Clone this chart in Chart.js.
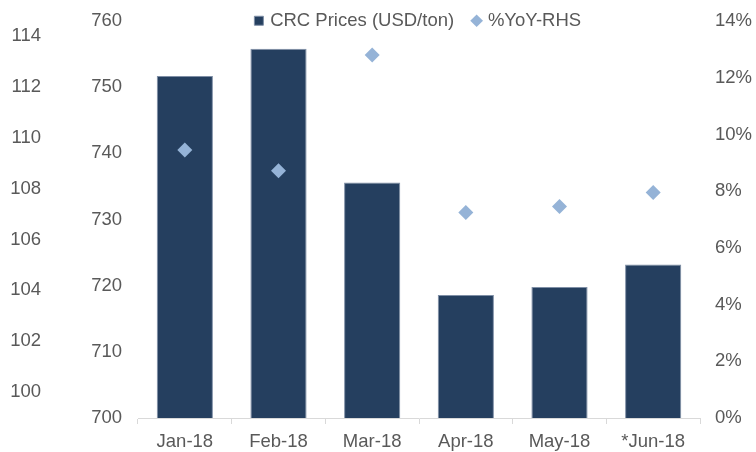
<!DOCTYPE html>
<html>
<head>
<meta charset="utf-8">
<script src="https://cdn.jsdelivr.net/npm/chart.js@4.4.1/dist/chart.umd.min.js"></script>
<style>
  html, body { margin: 0; padding: 0; background: #fff; }
</style>
</head>
<body>
<canvas id="myChart" width="756" height="452"></canvas>
<script>
const months = ['Jan-18', 'Feb-18', 'Mar-18', 'Apr-18', 'May-18', '*Jun-18'];
const crcPrices = [751.7, 755.8, 735.6, 718.6, 719.8, 723.2];
const yoyPct = [9.45, 8.72, 12.8, 7.25, 7.46, 7.95];
const outerTicks = [100, 102, 104, 106, 108, 110, 112, 114];

const txt = '#595959';
const fnt = { family: 'Liberation Sans, Arial, sans-serif', size: 18.5 };

// legend sits beside the top ticks, so it must not push the plot down
const legendSquash = {
  id: 'legendSquash',
  afterInit(chart) {
    const lg = chart.legend;
    const fit0 = lg.fit;
    const draw0 = lg.draw;
    lg.fit = function () { fit0.call(this); this.height = 30; };
    lg.draw = function () {
      const b = this.bottom;
      this.bottom = b + 30;
      draw0.call(this);
      this.bottom = b;
    };
  }
};

// y axes: no extra room reserved for half-labels at the ends
const noEndPad = (w) => (s) => {
  s.width = w;
  s.paddingTop = 0;
  s.paddingBottom = 0;
};

const data = {
  labels: months,
  datasets: [
    {
      type: 'bar',
      label: 'CRC Prices (USD/ton)',
      data: crcPrices,
      backgroundColor: '#253F5F',
      borderColor: '#7f8fa6',
      borderWidth: 1,
      pointStyle: 'rect',
      yAxisID: 'y',
      order: 1,
      categoryPercentage: 1,
      barPercentage: 0.6,
    },
    {
      type: 'line',
      label: '%YoY-RHS',
      data: yoyPct,
      showLine: false,
      pointStyle: 'rectRot',
      pointRadius: 7.5,
      pointHoverRadius: 7.5,
      backgroundColor: '#95B3D7',
      borderColor: '#95B3D7',
      borderWidth: 0,
      yAxisID: 'y1',
      order: 0,
    }
  ]
};

const options = {
  responsive: false,
  animation: false,
  layout: { padding: { top: -9, left: 0, right: 0, bottom: 0 } },
  plugins: {
    tooltip: { enabled: false },
    legend: {
      position: 'top',
      fullSize: false,
      labels: {
        color: txt,
        font: fnt,
        usePointStyle: true,
        boxWidth: 4,
        boxHeight: 9,
        padding: 20.5,
        sort: (a, b) => a.datasetIndex - b.datasetIndex,
      },
    },
  },
  scales: {
    x: {
      offset: true,
      grid: {
        display: true,
        drawOnChartArea: false,
        drawTicks: true,
        tickLength: 6,
        color: '#d9d9d9',
        offset: true,
      },
      border: { display: true, color: '#d9d9d9' },
      ticks: { color: txt, font: fnt, padding: 7, maxRotation: 0 },
      afterFit: (s) => { s.height = 34; },
    },
    y: {
      position: 'left',
      weight: 0,
      min: 700,
      max: 760,
      grid: { display: false, drawTicks: false },
      border: { display: false },
      ticks: { stepSize: 10, color: txt, font: fnt, padding: 16 },
      afterFit: noEndPad(92),
    },
    yL: {
      position: 'left',
      weight: 1,
      min: 98.97,
      max: 114.6,
      grid: { display: false, drawTicks: false },
      border: { display: false },
      afterBuildTicks: (s) => { s.ticks = outerTicks.map(v => ({ value: v })); },
      ticks: { color: txt, font: fnt, padding: 5 },
      afterFit: noEndPad(46),
    },
    y1: {
      position: 'right',
      min: 0,
      max: 14,
      grid: { display: false, drawTicks: false },
      border: { display: false },
      ticks: {
        stepSize: 2,
        color: txt,
        font: fnt,
        padding: 15,
        callback: (v) => v + '%',
      },
      afterFit: noEndPad(56),
    },
  },
};

const ctx = document.getElementById('myChart').getContext('2d');
const chart = new Chart(ctx, { data: data, options: options, plugins: [legendSquash] });
</script>
</body>
</html>
